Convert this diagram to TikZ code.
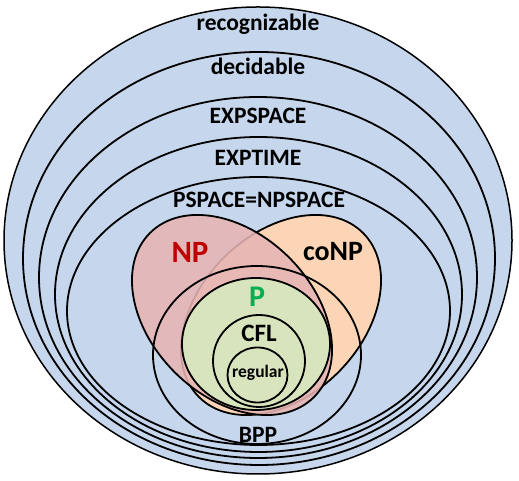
\documentclass[tikz,border=0pt]{standalone}
\usepackage{fontspec}
\setmainfont{Carlito}
\definecolor{bgblue}{RGB}{198,214,236}
\definecolor{nppink}{RGB}{230,180,180}
\definecolor{conporange}{RGB}{251,213,181}
\definecolor{pgreen}{RGB}{215,228,189}
\definecolor{npred}{RGB}{192,0,0}
\definecolor{ptext}{RGB}{0,176,80}
\tikzset{
  ring/.style={draw=black, line width=1.8pt},
  lbl/.style={anchor=base, inner sep=0pt, font=\bfseries\fontsize{23.5}{28}\selectfont},
}
\begin{document}
\begin{tikzpicture}[x=1pt,y=1pt]
\useasboundingbox (0,0) rectangle (519,481);
% outer nested classes
\draw[ring, line width=1.5pt, fill=bgblue] (258,240.5) ellipse [x radius=254, y radius=233.5];
\draw[ring] (259,222.5) ellipse [x radius=236, y radius=206.5];
\draw[ring] (258,203.5) ellipse [x radius=219, y radius=180.5];
\draw[ring] (258.5,186.5) ellipse [x radius=203.5, y radius=157.5];
\draw[ring] (258.5,170) ellipse [x radius=191.5, y radius=134];
% coNP and NP
\draw[ring, fill=conporange] (281,166) [rotate around={45:(281,166)}] ellipse [x radius=116, y radius=81];
\fill[nppink, fill opacity=0.88] (232,166) [rotate around={-45:(232,166)}] ellipse [x radius=116, y radius=81];
\draw[ring] (232,166) [rotate around={-45:(232,166)}] ellipse [x radius=116, y radius=81];
% BPP
\draw[ring] (257,126) ellipse [x radius=104, y radius=89];
% P, CFL, regular
\draw[ring, fill=pgreen] (256,137) ellipse [x radius=74, y radius=66];
\draw[ring] (259,120) ellipse [x radius=46, y radius=46];
\draw[ring] (257.5,106) ellipse [x radius=30, y radius=27.5];
% labels
\node[lbl] (trec) at (258,450) {recognizable};
\node[lbl] (tdec) at (258,406) {decidable};
\node[lbl] (texps) at (258,357) {EXPSPACE};
\node[lbl] (texpt) at (258,315) {EXPTIME};
\node[lbl] (tpsp) at (259,273) {PSPACE=NPSPACE};
\node[lbl, text=npred, font=\bfseries\fontsize{31}{36}\selectfont] (tnp) at (190,218) {NP};
\node[lbl, font=\bfseries\fontsize{28}{33}\selectfont] (tconp) at (333,220) {coNP};
\node[lbl, text=ptext, font=\bfseries\fontsize{30}{35}\selectfont] (tp) at (257,174) {P};
\node[lbl, font=\bfseries\fontsize{25}{30}\selectfont] (tcfl) at (259,139) {CFL};
\node[lbl, font=\bfseries\fontsize{17.5}{21}\selectfont] (treg) at (258,103) {regular};
\node[lbl] (tbpp) at (258,38) {BPP};
\end{tikzpicture}
\end{document}
